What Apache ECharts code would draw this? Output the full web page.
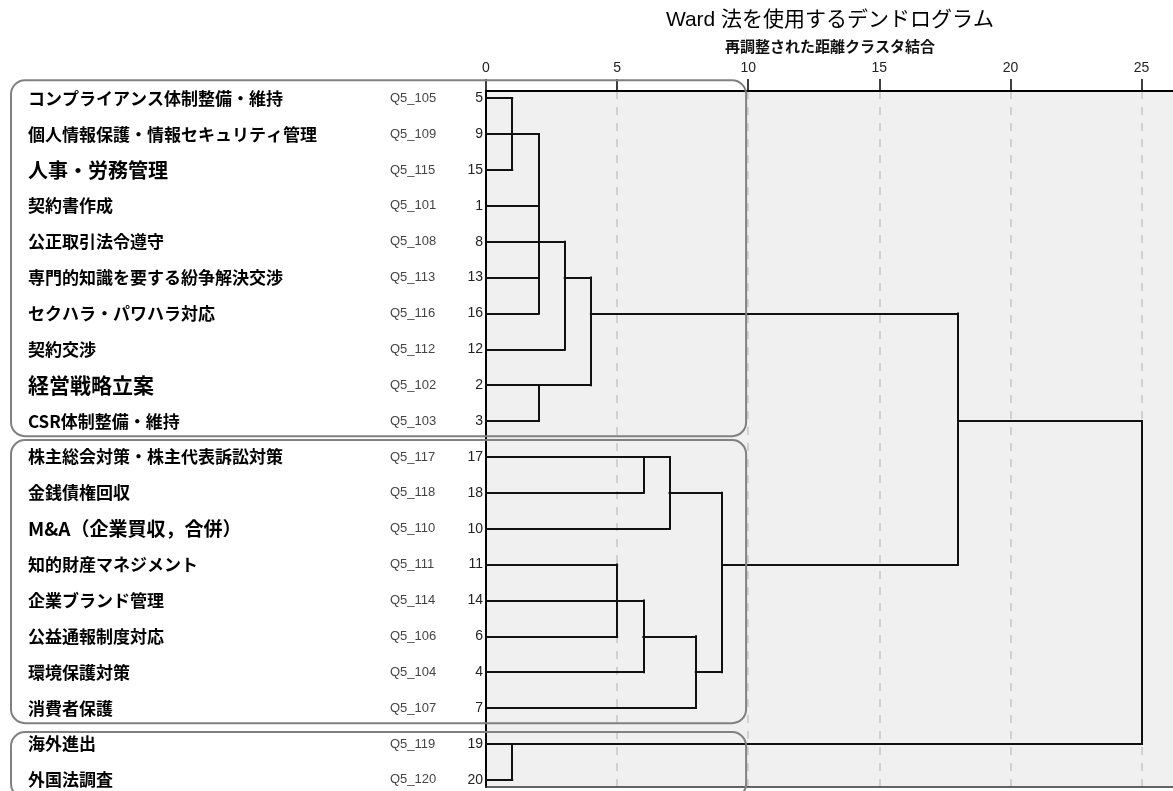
<!DOCTYPE html>
<html>
<head>
<meta charset="utf-8">
<title>Ward dendrogram</title>
<script src="https://cdn.jsdelivr.net/npm/echarts@6.0.0/dist/echarts.min.js"></script>
<style>
html, body { margin: 0; padding: 0; background: #fff; }
#main { width: 1173px; height: 791px; }
</style>
</head>
<body>
<div id="main"></div>
<script>
// rows, top to bottom, in dendrogram order
const itemNames = [
  "コンプライアンス体制整備・維持",
  "個人情報保護・情報セキュリティ管理",
  "人事・労務管理",
  "契約書作成",
  "公正取引法令遵守",
  "専門的知識を要する紛争解決交渉",
  "セクハラ・パワハラ対応",
  "契約交渉",
  "経営戦略立案",
  "CSR体制整備・維持",
  "株主総会対策・株主代表訴訟対策",
  "金銭債権回収",
  "M&A（企業買収，合併）",
  "知的財産マネジメント",
  "企業ブランド管理",
  "公益通報制度対応",
  "環境保護対策",
  "消費者保護",
  "海外進出",
  "外国法調査",
];
const itemCodes = [
  "Q5_105", "Q5_109", "Q5_115", "Q5_101", "Q5_108", "Q5_113", "Q5_116", "Q5_112", "Q5_102", "Q5_103",
  "Q5_117", "Q5_118", "Q5_110", "Q5_111", "Q5_114", "Q5_106", "Q5_104", "Q5_107", "Q5_119", "Q5_120",
];
const caseNumbers = [5, 9, 15, 1, 8, 13, 16, 12, 2, 3, 17, 18, 10, 11, 14, 6, 4, 7, 19, 20];

// merges: children are row indexes (leaves) or earlier merge ids
const mergeIds = ["A", "B", "C", "D", "E", "F", "G", "H", "I", "J", "K", "L", "M", "N"];
const mergeChildren = [
  [0, 2],
  ["A", 1, 3, 5, 6],
  ["B", 4, 7],
  [8, 9],
  ["C", "D"],
  [10, 11],
  ["F", 12],
  [13, 15],
  ["H", 14, 16],
  ["I", 17],
  ["G", "J"],
  ["E", "K"],
  [18, 19],
  ["L", "M"],
];
// rescaled distance of each merge
const mergeHeights = [1, 2, 3, 2, 4, 6, 7, 5, 6, 8, 9, 18, 1, 25];
// row where the merged cluster's link leaves
const mergeRows = [1, 4, 5, 8, 6, 10, 11, 14, 15, 16, 13, 9, 18, 13];

const xTicks = [0, 5, 10, 15, 20, 25];
// row ranges of the outlined groups
const groupRows = [[0, 9], [10, 17], [18, 19]];

// build the elbow segments
const nodeX = {};
const nodeRow = {};
function nodePos(c) {
  return typeof c === "number" ? [0, c] : [nodeX[c], nodeRow[c]];
}
const segments = [];
mergeIds.forEach((id, i) => {
  const h = mergeHeights[i];
  const rows = [];
  mergeChildren[i].forEach((c) => {
    const p = nodePos(c);
    rows.push(p[1]);
    segments.push({ coords: [[p[0], p[1]], [h, p[1]]] });
  });
  segments.push({ coords: [[h, Math.min(...rows)], [h, Math.max(...rows)]] });
  nodeX[id] = h;
  nodeRow[id] = mergeRows[i];
});

const rowIdx = caseNumbers.map((_, i) => i);
const latin = "'Liberation Sans', Arial, 'Noto Sans CJK JP', sans-serif";
const cjk = "'Noto Sans CJK JP', 'Liberation Sans', sans-serif";
// a few labels are printed larger in the source
const labelSize = { "人事・労務管理": "b", "経営戦略立案": "c", "M&A（企業買収，合併）": "m" };

function rowAxis(extra) {
  return Object.assign(
    {
      type: "value",
      inverse: true,
      min: -0.2,
      max: 19.2,
      position: "left",
      offset: 0,
      axisLine: { show: false, onZero: false },
      axisTick: { show: false },
      splitLine: { show: false },
    },
    extra
  );
}

const chart = echarts.init(document.getElementById("main"));

const option = {
  backgroundColor: "#fff",
  animation: false,
  title: [
    {
      text: "Ward 法を使用するデンドログラム",
      left: 830,
      top: 10,
      textAlign: "center",
      padding: 0,
      textStyle: { fontSize: 21, fontWeight: "normal", color: "#000", fontFamily: latin },
    },
    {
      text: "再調整された距離クラスタ結合",
      left: 830,
      top: 39,
      textAlign: "center",
      padding: 0,
      textStyle: { fontSize: 15, fontWeight: "bold", color: "#111", fontFamily: cjk },
    },
  ],
  grid: {
    left: 486,
    right: 0,
    top: 91,
    bottom: 4,
    outerBoundsMode: "none",
    show: true,
    backgroundColor: "#f0f0f0",
    borderWidth: 0,
  },
  xAxis: [
    {
      type: "value",
      position: "top",
      min: 0,
      max: 26.2,
      interval: 5,
      axisLine: { show: true, onZero: false, lineStyle: { color: "#000", width: 2 } },
      axisTick: { show: true, length: 12, customValues: xTicks, lineStyle: { color: "#000", width: 1.5 } },
      axisLabel: { customValues: xTicks, margin: 16, fontSize: 14, color: "#222", fontFamily: latin },
      splitLine: { show: true, lineStyle: { color: "#c6c6c6", width: 1.5, type: [8, 8] } },
    },
    {
      type: "value",
      position: "bottom",
      min: 0,
      max: 26.2,
      axisLine: { show: true, onZero: false, lineStyle: { color: "#333", width: 1.5 } },
      axisTick: { show: false },
      axisLabel: { show: false },
      splitLine: { show: false },
    },
  ],
  yAxis: [
    rowAxis({
      axisLine: { show: true, onZero: false, lineStyle: { color: "#000", width: 2 } },
      axisLabel: {
        customValues: rowIdx,
        formatter: (v) => String(caseNumbers[Math.round(v)]),
        margin: 3,
        fontSize: 14,
        color: "#222",
        fontFamily: latin,
      },
    }),
    rowAxis({
      axisLabel: {
        customValues: rowIdx,
        formatter: (v) => itemCodes[Math.round(v)],
        margin: 96,
        align: "left",
        fontSize: 13,
        color: "#444",
        fontFamily: latin,
      },
    }),
    rowAxis({
      axisLabel: {
        customValues: rowIdx,
        formatter: (v) => {
          const name = itemNames[Math.round(v)];
          return "{" + (labelSize[name] || "n") + "|" + name + "}";
        },
        margin: 458,
        align: "left",
        rich: {
          n: { fontSize: 17, fontWeight: "bold", color: "#000", fontFamily: cjk },
          b: { fontSize: 20, fontWeight: "bold", color: "#000", fontFamily: cjk },
          c: { fontSize: 21, fontWeight: "bold", color: "#000", fontFamily: cjk },
          m: { fontSize: 19, fontWeight: "bold", color: "#000", fontFamily: cjk },
        },
      },
    }),
  ],
  series: [
    {
      type: "lines",
      coordinateSystem: "cartesian2d",
      xAxisIndex: 0,
      yAxisIndex: 0,
      silent: true,
      z: 5,
      lineStyle: { color: "#111", width: 2, opacity: 1, curveness: 0, cap: "square" },
      data: segments,
    },
  ],
};

chart.setOption(option);

// rounded outlines around the three groups
const boxPad = [[0.5, 0.42], [0.47, 0.42], [0.33, 0.5]];
const boxes = groupRows.map((g, i) => {
  const tl = chart.convertToPixel({ xAxisIndex: 0, yAxisIndex: 0 }, [9.92, g[0] - boxPad[i][0]]);
  const br = chart.convertToPixel({ xAxisIndex: 0, yAxisIndex: 0 }, [9.92, g[1] + boxPad[i][1]]);
  const left = 11;
  return {
    type: "rect",
    z: 100,
    silent: true,
    shape: { x: left, y: tl[1], width: br[0] - left, height: br[1] - tl[1], r: 14 },
    style: { fill: "none", stroke: "#808080", lineWidth: 2 },
  };
});
chart.setOption({ graphic: boxes });
</script>
</body>
</html>
